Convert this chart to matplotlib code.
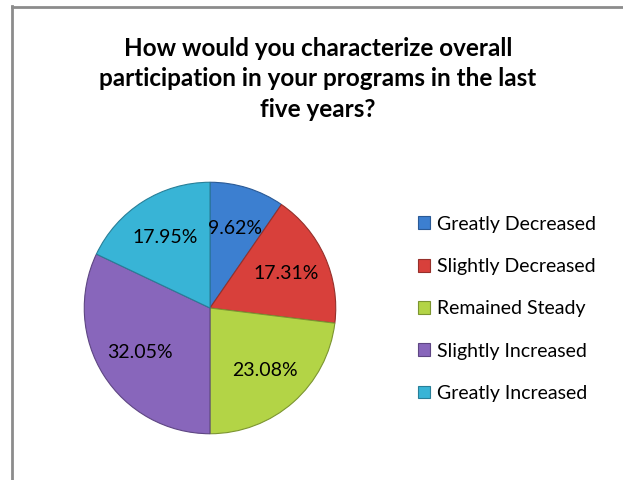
import matplotlib
matplotlib.use("Agg")
import matplotlib.pyplot as plt
from matplotlib.lines import Line2D

categories = ["Greatly Decreased", "Slightly Decreased", "Remained Steady",
              "Slightly Increased", "Greatly Increased"]
shares = [9.62, 17.31, 23.08, 32.05, 17.95]
colors = ["#3c7fd0", "#d8403b", "#b3d446", "#8866bb", "#38b4d6"]
edges = ["#2a5a96", "#96302b", "#7c9531", "#5e4683", "#287f98"]
title = "How would you characterize overall\nparticipation in your programs in the last\nfive years?"

plt.rcParams["font.family"] = ["Lato", "DejaVu Sans"]

fig = plt.figure(figsize=(6.23, 4.8), dpi=100)
W, H = 623, 480

# chart frame (only left and top edges visible in the crop)
fig.add_artist(Line2D([11.5 / W, 11.5 / W], [0, 1 - 6 / H], color="#8c8c8c", lw=2))
fig.add_artist(Line2D([11.5 / W, 1], [1 - 6.5 / H, 1 - 6.5 / H], color="#8c8c8c", lw=2))

fig.text(318 / W, 1 - 79 / H, title, ha="center", va="center", fontsize=17.5,
         fontweight="bold", linespacing=1.42)

cx, cy, r = 210, 308, 127
ax = fig.add_axes([(cx - r) / W, (H - cy - r) / H, 2 * r / W, 2 * r / H])
wedges, texts = ax.pie(shares, colors=colors, startangle=90, counterclock=False,
                       labels=[f"{v:.2f}%" for v in shares], labeldistance=0.66,
                       wedgeprops=dict(linewidth=0.8),
                       textprops=dict(fontsize=14, ha="center", va="center"))
for w, e in zip(wedges, edges):
    w.set_edgecolor(e)
ax.set_xlim(-1.01, 1.01)
ax.set_ylim(-1.01, 1.01)
ax.set_aspect("equal")
ax.axis("off")

fig.legend(wedges, categories, loc="upper left", bbox_to_anchor=(408 / W, 1 - 206 / H),
           frameon=False, fontsize=14, handlelength=0.65, handleheight=0.65,
           handletextpad=0.35, labelspacing=1.3, borderpad=0)

fig.savefig("out.png", dpi=100)
